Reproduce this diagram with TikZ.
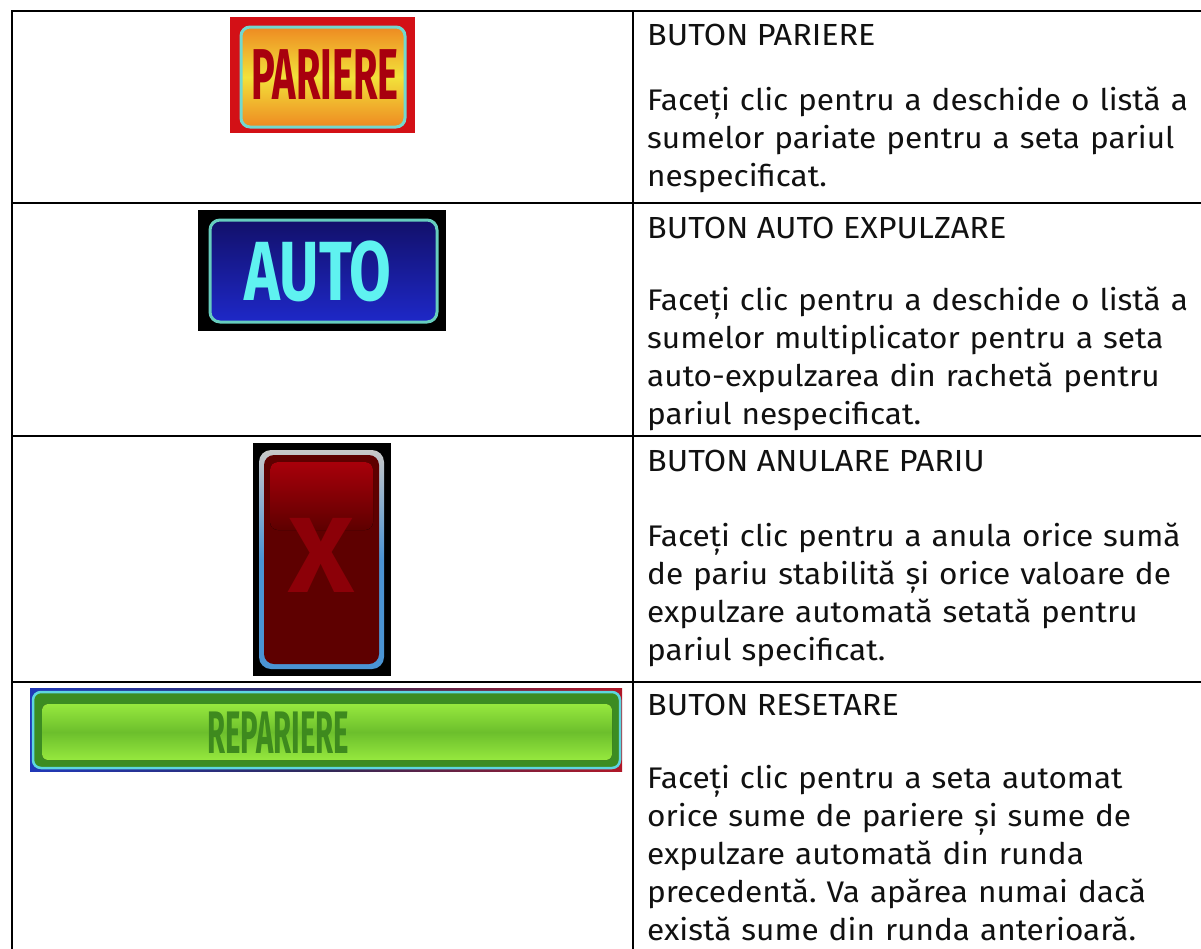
\documentclass[tikz,border=0pt]{standalone}
\usepackage{fontspec}
\usepackage{graphicx}
\setmainfont{Fira Sans}[FakeStretch=1.06]
\frenchspacing
\definecolor{parRed}{HTML}{D31016}
\definecolor{parOrange}{HTML}{EE8A22}
\definecolor{parYellow}{HTML}{F2E23A}
\definecolor{parEdge}{HTML}{72D8CF}
\definecolor{parText}{HTML}{A8000E}
\definecolor{autoDark}{HTML}{12106A}
\definecolor{autoBlue}{HTML}{1E28C8}
\definecolor{autoEdge}{HTML}{66CDBE}
\definecolor{autoText}{HTML}{5FF2F0}
\definecolor{xGray}{HTML}{C8C8C8}
\definecolor{xBlue}{HTML}{4A94D4}
\definecolor{xDark}{HTML}{5E0000}
\definecolor{xRed}{HTML}{A8000A}
\definecolor{xText}{HTML}{8C0008}
\definecolor{repBlue}{HTML}{2038B8}
\definecolor{repRed}{HTML}{B01828}
\definecolor{repDark}{HTML}{302858}
\definecolor{repEdge}{HTML}{5ED6E0}
\definecolor{repGreenDark}{HTML}{3C8C22}
\definecolor{repLight}{HTML}{96E83E}
\definecolor{repMid}{HTML}{6CBF2C}
\definecolor{repText}{HTML}{3E8A1E}
\definecolor{bodyText}{HTML}{111111}
\tikzset{
  grid line/.style={line width=2.5pt, black},
  titletext/.style={anchor=base west, inner sep=0pt, text=bodyText,
    font=\fontsize{30.5}{38}\selectfont},
  desctext/.style={anchor=base west, inner sep=0pt, text width=552pt,
    align=left, text=bodyText, font=\fontsize{29.8}{38}\selectfont},
  btnlabel/.style={inner sep=0pt}
}

\begin{document}
\begin{tikzpicture}[x=1pt,y=-1pt]
\useasboundingbox (0,0) rectangle (1201,948);
% PARIERE
\fill [parRed] (230,17) rectangle (415,133);
\draw [line width=3pt, parEdge, rounded corners=9pt, top color=parOrange, bottom color=parOrange, middle color=parYellow] (241,27) rectangle (405,127);
\node [btnlabel, text=parText, font=\bfseries\fontsize{72}{72}\selectfont] (pariere) at (325,75) {\scalebox{0.52}[1]{PARIERE}};
% AUTO
\fill [black] (198,210) rectangle (446,331);
\draw [line width=3pt, autoEdge, rounded corners=10pt, top color=autoDark, bottom color=autoBlue] (210,220) rectangle (437,322);
\node [btnlabel, text=autoText, font=\bfseries\fontsize{84}{84}\selectfont] (auto) at (318,271) {\scalebox{0.68}[1]{AUTO}};
% X
\fill [black] (253,443) rectangle (391,676);
\fill [rounded corners=12pt, top color=xGray, bottom color=xBlue, middle color=xBlue] (259,450) rectangle (384,669);
\fill [rounded corners=10pt, xDark] (264,455) rectangle (379,664);
\fill [rounded corners=8pt, top color=xRed, bottom color=xDark] (270,462) rectangle (373,530);
\node [btnlabel, text=xText, font=\bfseries\fontsize{107}{107}\selectfont] (anulare) at (321,555) {X};
% REPARIERE
\fill [left color=repBlue, right color=repRed, middle color=repDark] (30,688) rectangle (622,771);
\draw [line width=2.5pt, repEdge, rounded corners=8pt, fill=repGreenDark] (33,692) rectangle (620,768);
\fill [rounded corners=6pt, top color=repLight, bottom color=repLight, middle color=repMid] (42,704) rectangle (612,760);
\node [btnlabel, text=repText, font=\bfseries\fontsize{60}{60}\selectfont] (repariere) at (278,733) {\scalebox{0.46}[1]{REPARIERE}};
% grid
\draw [grid line] (12,11) rectangle (1204,960);
\draw [grid line] (633,11) -- (633,960);
\foreach \y in {203,436,682}
  \draw [grid line] (12,\y) -- (1204,\y);
% texts
\node [titletext] (t1) at (647,45) {BUTON PARIERE};
\node [desctext] (d1) at (647,110) {Faceți clic pentru a deschide o listă a\\ sumelor pariate pentru a seta pariul\\ nespecificat.};
\node [titletext] (t2) at (647,238) {BUTON AUTO EXPULZARE};
\node [desctext] (d2) at (647,310) {Faceți clic pentru a deschide o listă a\\ sumelor multiplicator pentru a seta\\ auto-expulzarea din rachetă pentru\\ pariul nespecificat.};
\node [titletext] (t3) at (647,471) {BUTON ANULARE PARIU};
\node [desctext] (d3) at (647,546) {Faceți clic pentru a anula orice sumă\\ de pariu stabilită și orice valoare de\\ expulzare automată setată pentru\\ pariul specificat.};
\node [titletext] (t4) at (647,715) {BUTON RESETARE};
\node [desctext] (d4) at (647,788) {Faceți clic pentru a seta automat\\ orice sume de pariere și sume de\\ expulzare automată din runda\\ precedentă. Va apărea numai dacă\\ există sume din runda anterioară.};
\end{tikzpicture}
\end{document}
